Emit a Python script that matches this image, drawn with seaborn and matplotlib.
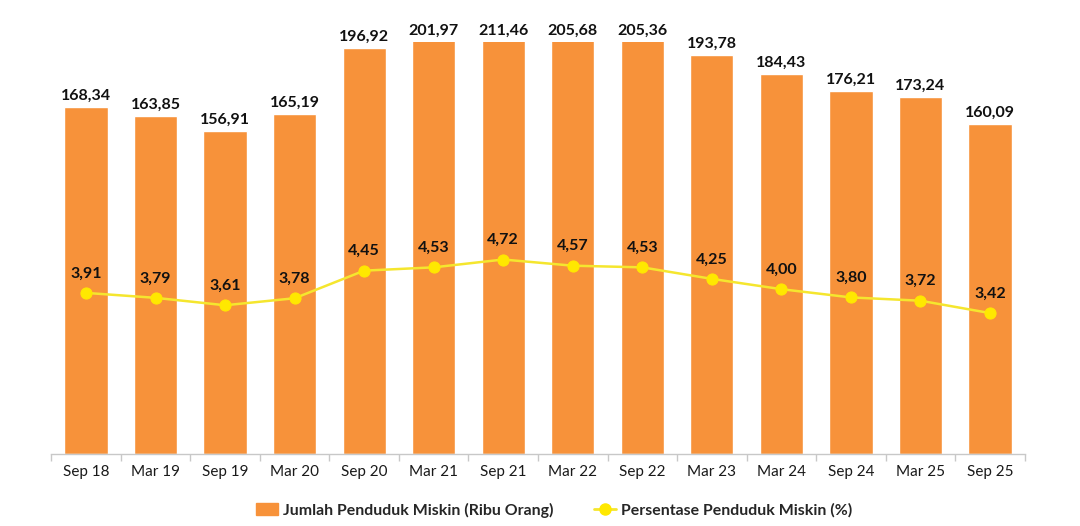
import numpy as np
import pandas as pd
import matplotlib
matplotlib.use("Agg")
import matplotlib.pyplot as plt
from matplotlib.patches import Patch
from matplotlib.lines import Line2D
import seaborn as sns

periods = ["Sep 18", "Mar 19", "Sep 19", "Mar 20", "Sep 20", "Mar 21", "Sep 21",
           "Mar 22", "Sep 22", "Mar 23", "Mar 24", "Sep 24", "Mar 25", "Sep 25"]
jumlah = [168.34, 163.85, 156.91, 165.19, 196.92, 201.97, 211.46,
          205.68, 205.36, 193.78, 184.43, 176.21, 173.24, 160.09]
persen = [3.91, 3.79, 3.61, 3.78, 4.45, 4.53, 4.72,
          4.57, 4.53, 4.25, 4.00, 3.80, 3.72, 3.42]

bar_label = "Jumlah Penduduk Miskin (Ribu Orang)"
line_label = "Persentase Penduduk Miskin (%)"

BAR_COLOR = "#F7923A"
LINE_COLOR = "#F5E62E"
MARK_COLOR = "#FFE800"
YMIN, YMAX = 0, 200
Y2MIN, Y2MAX = 0, 10

sns.set_theme(style="white")
plt.rcParams["font.family"] = ["Lato", "DejaVu Sans"]

df = pd.DataFrame({"periode": periods, "jumlah": jumlah, "persen": persen})
df["pos"] = np.arange(len(df))

fig = plt.figure(figsize=(10.8, 5.26), dpi=100)
ax = fig.add_axes([0.0474, 0.1369, 0.9015, 0.7833])

sns.barplot(data=df, x="periode", y="jumlah", color=BAR_COLOR, saturation=1,
            width=0.62, ax=ax, order=periods)
ax.set_ylim(YMIN, YMAX)
ax.set_xlim(-0.5, len(periods) - 0.5)
ax.set_xlabel("")
ax.set_ylabel("")
ax.set_yticks([])
for s in ["left", "right", "top"]:
    ax.spines[s].set_visible(False)
ax.spines["bottom"].set_color("#C8C8C8")
ax.spines["bottom"].set_linewidth(1.0)
ax.tick_params(axis="x", which="major", length=0, pad=8, labelsize=11,
               labelcolor="#1a1a1a")
ax.set_xticks(np.arange(len(periods) + 1) - 0.5, minor=True)
ax.tick_params(axis="x", which="minor", length=5, color="#C8C8C8", width=1,
               bottom=True)

for i, v in enumerate(jumlah):
    ax.annotate(f"{v:.2f}".replace(".", ","), (i, min(v, YMAX)), xytext=(0, 3),
                textcoords="offset points", ha="center", va="bottom",
                fontsize=11.5, fontweight="bold", color="#111111",
                annotation_clip=False)

ax2 = ax.twinx()
sns.lineplot(data=df, x="pos", y="persen", ax=ax2, color=LINE_COLOR, lw=1.8,
             marker="o", markersize=8, markerfacecolor=MARK_COLOR,
             markeredgecolor=MARK_COLOR)
ax2.set_ylim(Y2MIN, Y2MAX)
ax2.set_xlim(-0.5, len(periods) - 0.5)
ax2.set_yticks([])
ax2.set_ylabel("")
ax2.set_xlabel("")
for s in ["left", "right", "top", "bottom"]:
    ax2.spines[s].set_visible(False)

for i, v in enumerate(persen):
    ax2.annotate(f"{v:.2f}".replace(".", ","), (i, v), xytext=(0, 9),
                 textcoords="offset points", ha="center", va="bottom",
                 fontsize=11.5, fontweight="bold", color="#111111")

handles = [Patch(facecolor=BAR_COLOR, edgecolor=BAR_COLOR),
           Line2D([0], [0], color=LINE_COLOR, lw=2, marker="o", markersize=8,
                  markerfacecolor=MARK_COLOR, markeredgecolor=MARK_COLOR)]
fig.legend(handles, [bar_label, line_label], loc="center",
           bbox_to_anchor=(0.513, 0.03), ncol=2, frameon=False,
           prop={"size": 11.4, "weight": "bold"}, handlelength=1.4,
           handleheight=0.8, columnspacing=2.6, handletextpad=0.3)

fig.savefig("out.png", dpi=100, facecolor="white")
